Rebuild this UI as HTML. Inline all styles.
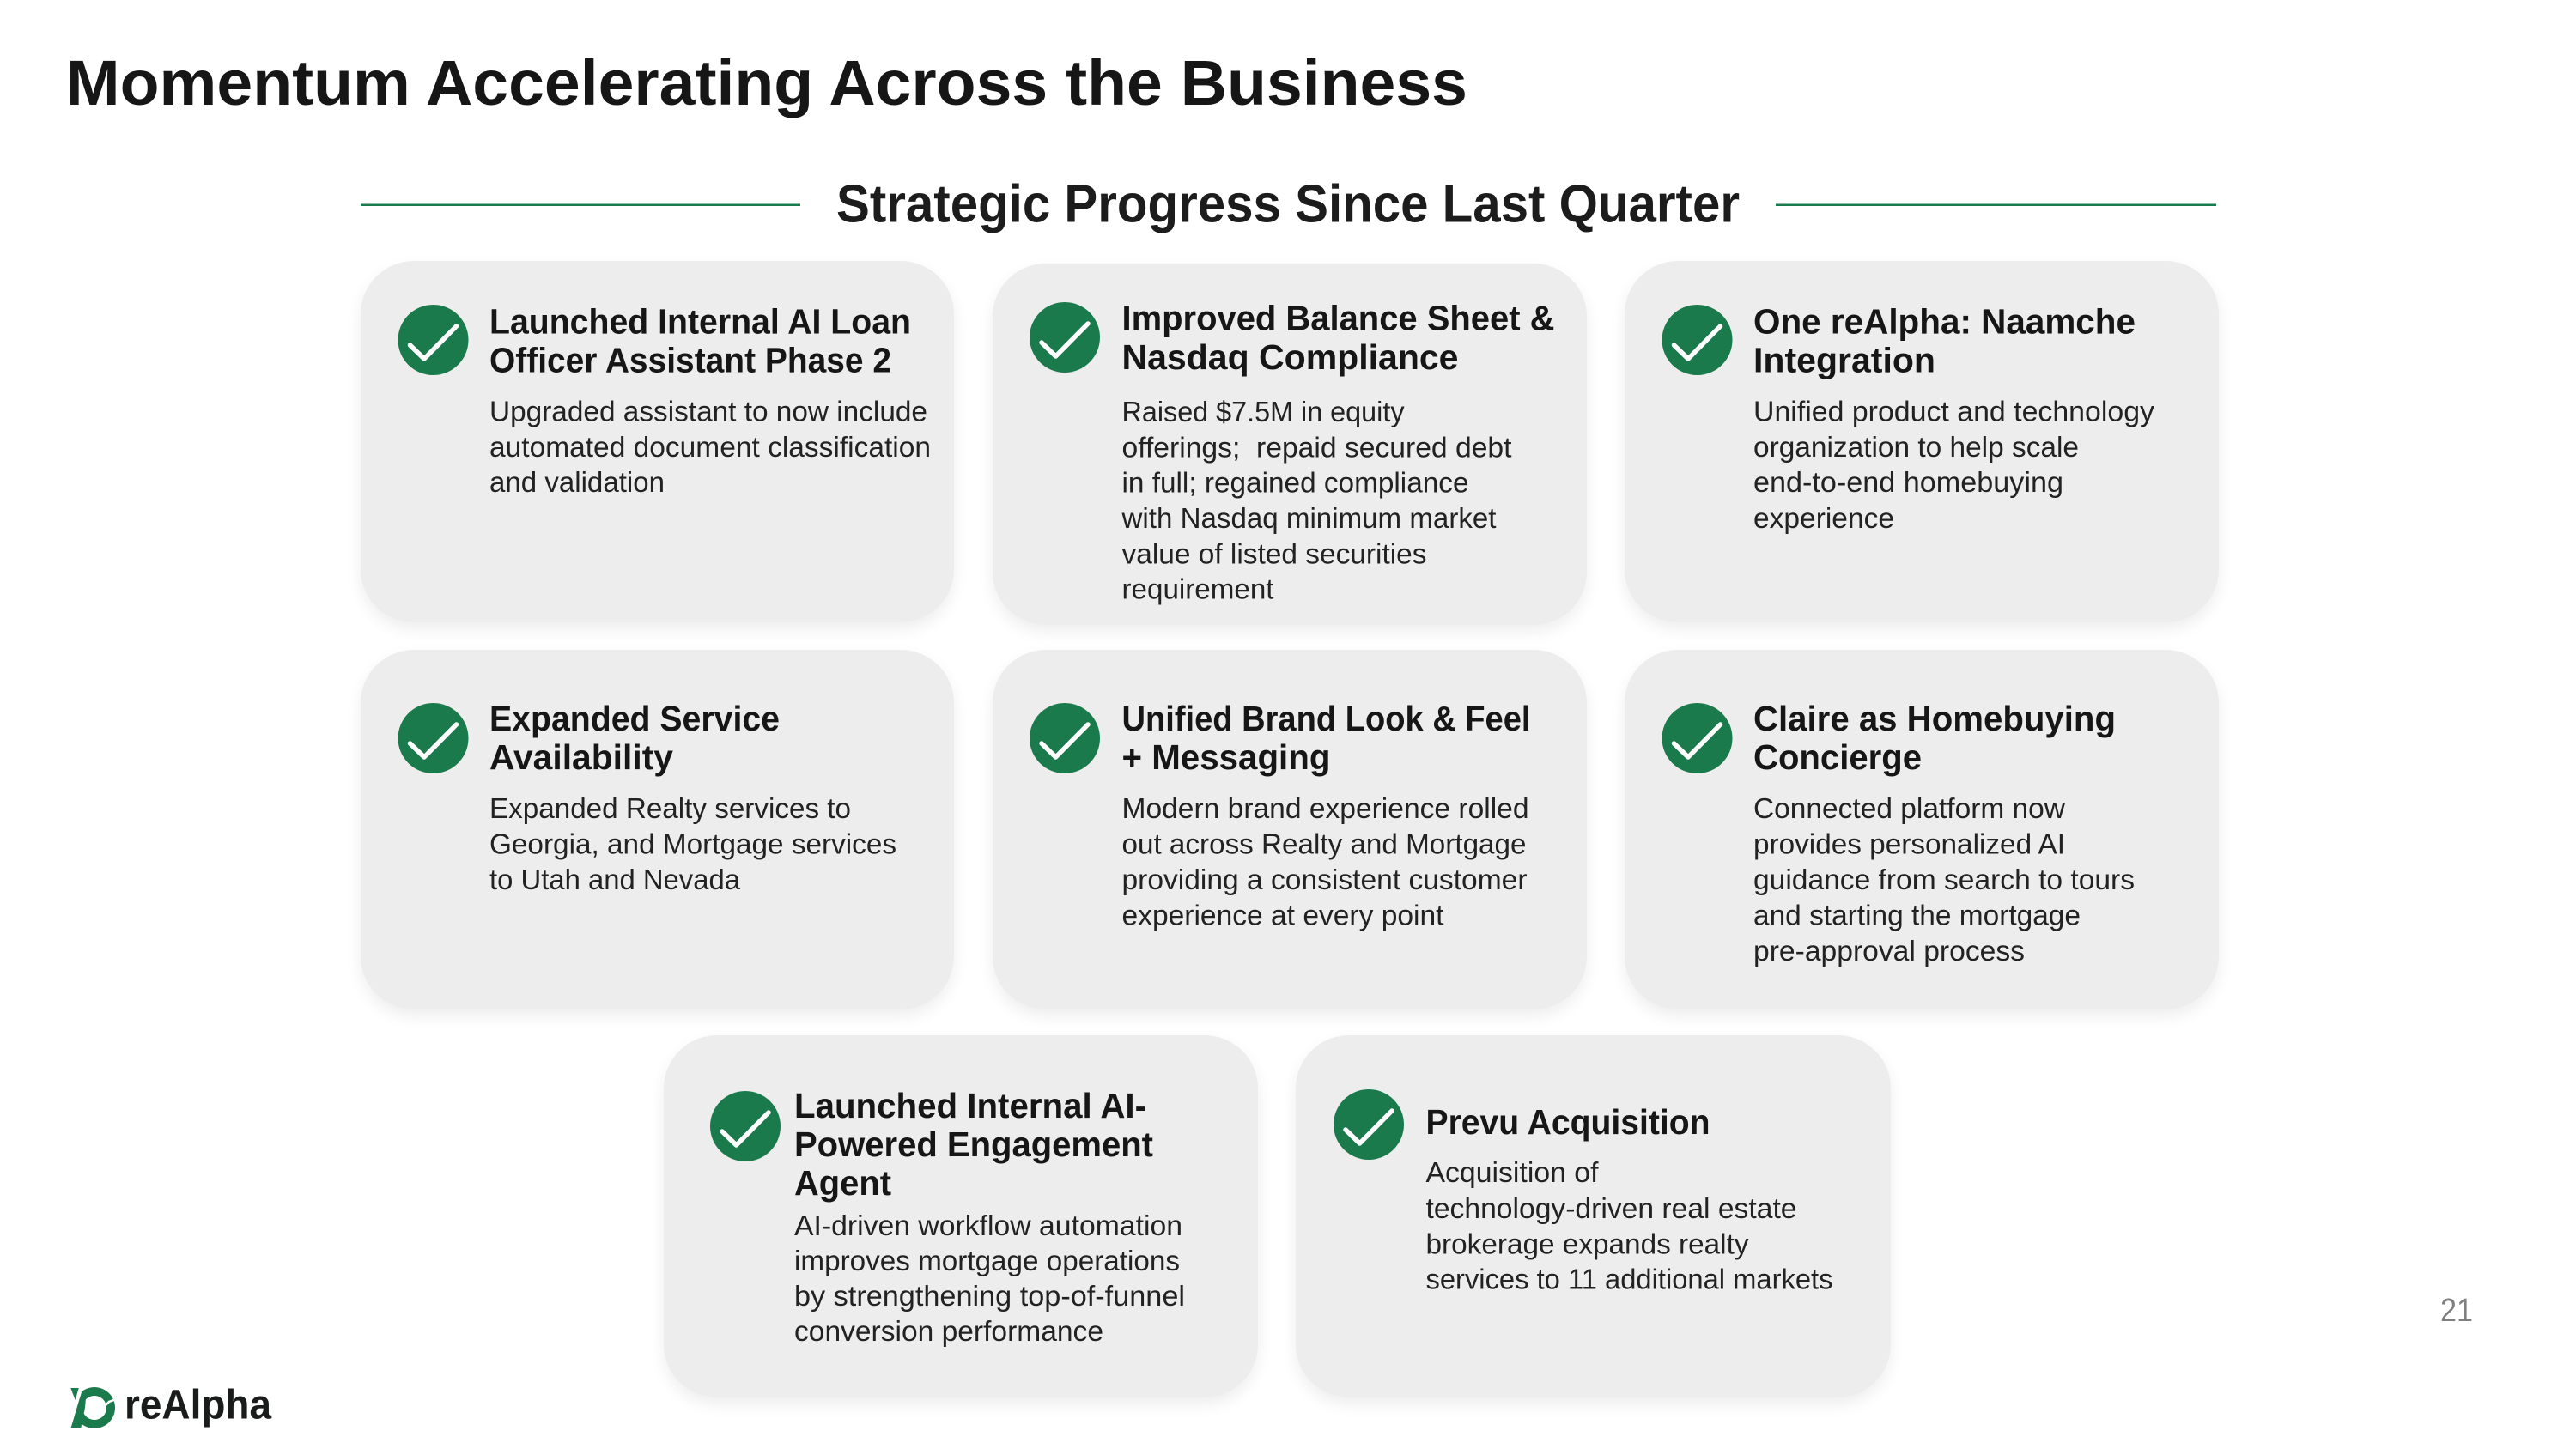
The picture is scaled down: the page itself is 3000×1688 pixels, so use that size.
<!DOCTYPE html>
<html><head><meta charset="utf-8"><style>
html,body{margin:0;padding:0;background:#fff}
#p{position:relative;width:3000px;height:1688px;overflow:hidden;background:#fff}
.c{position:absolute;background:#ededed;border-radius:62px;box-shadow:0 8px 18px rgba(0,0,0,.07)}
svg{position:absolute;left:0;top:0}
text{font-family:"Liberation Sans",sans-serif;white-space:pre}
.h{font-size:41px;font-weight:700;fill:#161616}
.b{font-size:33px;fill:#222}
.k{fill:none;stroke:#fff;stroke-width:5.5;stroke-linecap:round;stroke-linejoin:round}
</style></head><body><div id="p">
<div class="c" style="left:420px;top:304px;width:691px;height:421px"></div>
<div class="c" style="left:1156px;top:307px;width:692px;height:421px"></div>
<div class="c" style="left:1892px;top:304px;width:692px;height:421px"></div>
<div class="c" style="left:420px;top:757px;width:691px;height:419px"></div>
<div class="c" style="left:1156px;top:757px;width:692px;height:419px"></div>
<div class="c" style="left:1892px;top:757px;width:692px;height:419px"></div>
<div class="c" style="left:773px;top:1206px;width:692px;height:422px"></div>
<div class="c" style="left:1509px;top:1206px;width:693px;height:422px"></div>
<svg width="3000" height="1688" viewBox="0 0 3000 1688">
<text x="77" y="122" font-size="74" font-weight="700" fill="#161616" textLength="1632" lengthAdjust="spacingAndGlyphs">Momentum Accelerating Across the Business</text>
<text x="974" y="258.5" font-size="62" font-weight="700" fill="#1c1c1c" textLength="1052" lengthAdjust="spacingAndGlyphs">Strategic Progress Since Last Quarter</text>
<rect x="420" y="237.5" width="512" height="2.5" fill="#1b7a4b"/>
<rect x="2068" y="237.5" width="513" height="2.5" fill="#1b7a4b"/>

<g fill="#1b7a4b">
<circle cx="504.5" cy="396" r="41"/><circle cx="1240" cy="393" r="41"/><circle cx="1976.5" cy="396" r="41"/>
<circle cx="504.5" cy="860" r="41"/><circle cx="1240" cy="860" r="41"/><circle cx="1976.5" cy="860" r="41"/>
<circle cx="868" cy="1312" r="41"/><circle cx="1594" cy="1310" r="41"/>
</g>
<path class="k" d="M477.5 402L494 418L531.5 380"/>
<path class="k" d="M1213 399L1229.5 415L1267 377"/>
<path class="k" d="M1949.5 402L1966 418L2003.5 380"/>
<path class="k" d="M477.5 866L494 882L531.5 844"/>
<path class="k" d="M1213 866L1229.5 882L1267 844"/>
<path class="k" d="M1949.5 866L1966 882L2003.5 844"/>
<path class="k" d="M841 1318L857.5 1334L895 1296"/>
<path class="k" d="M1567 1316L1583.5 1332L1621 1294"/>

<text class="h" x="570" y="388.5" textLength="491" lengthAdjust="spacingAndGlyphs">Launched Internal AI Loan</text>
<text class="h" x="570" y="433.5" textLength="468" lengthAdjust="spacingAndGlyphs">Officer Assistant Phase 2</text>
<text class="b" x="570" y="490.5" textLength="510" lengthAdjust="spacingAndGlyphs">Upgraded assistant to now include</text>
<text class="b" x="570" y="532" textLength="514" lengthAdjust="spacingAndGlyphs">automated document classification</text>
<text class="b" x="570" y="573" textLength="204" lengthAdjust="spacingAndGlyphs">and validation</text>

<text class="h" x="1306.5" y="384.5" textLength="504" lengthAdjust="spacingAndGlyphs">Improved Balance Sheet &amp;</text>
<text class="h" x="1306.5" y="430" textLength="392" lengthAdjust="spacingAndGlyphs">Nasdaq Compliance</text>
<text class="b" x="1306.5" y="491" textLength="329" lengthAdjust="spacingAndGlyphs">Raised $7.5M in equity</text>
<text class="b" x="1306.5" y="532.5" textLength="454" lengthAdjust="spacingAndGlyphs">offerings;  repaid secured debt</text>
<text class="b" x="1306.5" y="573.5" textLength="404" lengthAdjust="spacingAndGlyphs">in full; regained compliance</text>
<text class="b" x="1306.5" y="615" textLength="436" lengthAdjust="spacingAndGlyphs">with Nasdaq minimum market</text>
<text class="b" x="1306.5" y="656.5" textLength="355" lengthAdjust="spacingAndGlyphs">value of listed securities</text>
<text class="b" x="1306.5" y="697.5" textLength="177" lengthAdjust="spacingAndGlyphs">requirement</text>

<text class="h" x="2042" y="388.5" textLength="445" lengthAdjust="spacingAndGlyphs">One reAlpha: Naamche</text>
<text class="h" x="2042" y="433.5" textLength="212" lengthAdjust="spacingAndGlyphs">Integration</text>
<text class="b" x="2042" y="490.5" textLength="467" lengthAdjust="spacingAndGlyphs">Unified product and technology</text>
<text class="b" x="2042" y="532" textLength="379" lengthAdjust="spacingAndGlyphs">organization to help scale</text>
<text class="b" x="2042" y="573" textLength="361" lengthAdjust="spacingAndGlyphs">end-to-end homebuying</text>
<text class="b" x="2042" y="615" textLength="164" lengthAdjust="spacingAndGlyphs">experience</text>

<text class="h" x="570" y="851" textLength="338" lengthAdjust="spacingAndGlyphs">Expanded Service</text>
<text class="h" x="570" y="896" textLength="214" lengthAdjust="spacingAndGlyphs">Availability</text>
<text class="b" x="570" y="953" textLength="421" lengthAdjust="spacingAndGlyphs">Expanded Realty services to</text>
<text class="b" x="570" y="994.5" textLength="474" lengthAdjust="spacingAndGlyphs">Georgia, and Mortgage services</text>
<text class="b" x="570" y="1036" textLength="292" lengthAdjust="spacingAndGlyphs">to Utah and Nevada</text>

<text class="h" x="1306.5" y="851" textLength="476" lengthAdjust="spacingAndGlyphs">Unified Brand Look &amp; Feel</text>
<text class="h" x="1306.5" y="896" textLength="243" lengthAdjust="spacingAndGlyphs">+ Messaging</text>
<text class="b" x="1306.5" y="953" textLength="474" lengthAdjust="spacingAndGlyphs">Modern brand experience rolled</text>
<text class="b" x="1306.5" y="994.5" textLength="471" lengthAdjust="spacingAndGlyphs">out across Realty and Mortgage</text>
<text class="b" x="1306.5" y="1036" textLength="472" lengthAdjust="spacingAndGlyphs">providing a consistent customer</text>
<text class="b" x="1306.5" y="1077.5" textLength="375" lengthAdjust="spacingAndGlyphs">experience at every point</text>

<text class="h" x="2042" y="851" textLength="422" lengthAdjust="spacingAndGlyphs">Claire as Homebuying</text>
<text class="h" x="2042" y="896" textLength="196" lengthAdjust="spacingAndGlyphs">Concierge</text>
<text class="b" x="2042" y="953" textLength="363" lengthAdjust="spacingAndGlyphs">Connected platform now</text>
<text class="b" x="2042" y="994.5" textLength="363" lengthAdjust="spacingAndGlyphs">provides personalized AI</text>
<text class="b" x="2042" y="1036" textLength="444" lengthAdjust="spacingAndGlyphs">guidance from search to tours</text>
<text class="b" x="2042" y="1077.5" textLength="381" lengthAdjust="spacingAndGlyphs">and starting the mortgage</text>
<text class="b" x="2042" y="1119" textLength="316" lengthAdjust="spacingAndGlyphs">pre-approval process</text>

<text class="h" x="925" y="1302" textLength="410" lengthAdjust="spacingAndGlyphs">Launched Internal AI-</text>
<text class="h" x="925" y="1347" textLength="418" lengthAdjust="spacingAndGlyphs">Powered Engagement</text>
<text class="h" x="925" y="1392" textLength="113" lengthAdjust="spacingAndGlyphs">Agent</text>
<text class="b" x="925" y="1439" textLength="452" lengthAdjust="spacingAndGlyphs">AI-driven workflow automation</text>
<text class="b" x="925" y="1480" textLength="449" lengthAdjust="spacingAndGlyphs">improves mortgage operations</text>
<text class="b" x="925" y="1521" textLength="455" lengthAdjust="spacingAndGlyphs">by strengthening top-of-funnel</text>
<text class="b" x="925" y="1562" textLength="360" lengthAdjust="spacingAndGlyphs">conversion performance</text>

<text class="h" x="1660.5" y="1321" textLength="331" lengthAdjust="spacingAndGlyphs">Prevu Acquisition</text>
<text class="b" x="1660.5" y="1377" textLength="201" lengthAdjust="spacingAndGlyphs">Acquisition of</text>
<text class="b" x="1660.5" y="1419" textLength="432" lengthAdjust="spacingAndGlyphs">technology-driven real estate</text>
<text class="b" x="1660.5" y="1460.5" textLength="376" lengthAdjust="spacingAndGlyphs">brokerage expands realty</text>
<text class="b" x="1660.5" y="1501.5" textLength="474" lengthAdjust="spacingAndGlyphs">services to 11 additional markets</text>

<text x="2842" y="1539" font-size="38" fill="#7f7f7f" textLength="38" lengthAdjust="spacingAndGlyphs">21</text>

<path fill="#1b7a4b" fill-rule="evenodd" d="M110 1616a24 24 0 1 0 .01 0ZM110 1626a14 14 0 1 1 -.01 0Z"/>
<path fill="#fff" d="M60 1670L82.7 1663L95 1622L70 1610Z"/>
<path fill="#1b7a4b" d="M82.7 1663L94.3 1663L99 1640L100 1628L93.5 1627Z"/>
<path fill="#1b7a4b" d="M82.3 1617H91.7L87.7 1631Z"/>
<path fill="none" stroke="#fff" stroke-width="2.5" d="M122 1638L127 1633L135 1630"/>
<text x="145" y="1652.5" font-size="48" font-weight="700" fill="#1a1c1b" textLength="171" lengthAdjust="spacingAndGlyphs">reAlpha</text>
</svg>
</div></body></html>
